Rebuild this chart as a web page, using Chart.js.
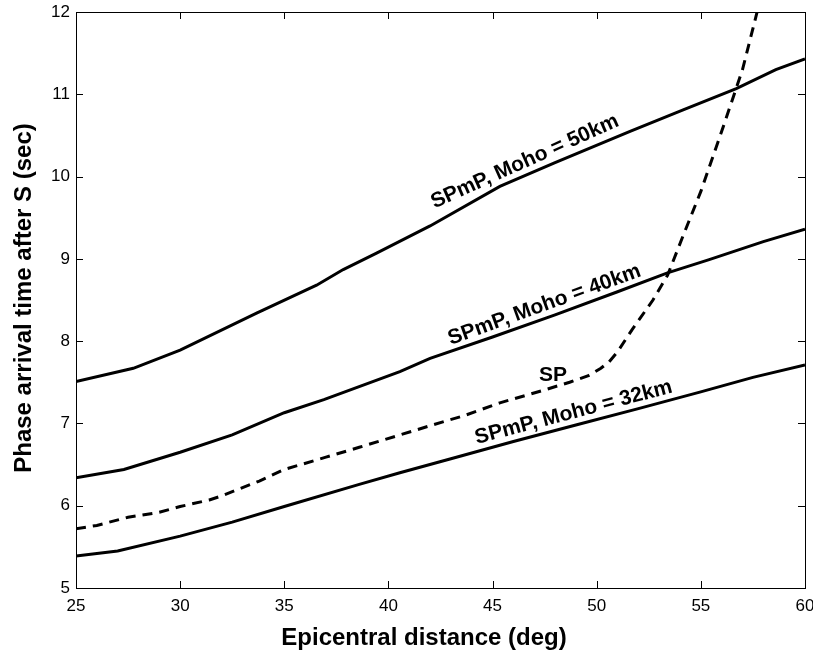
<!DOCTYPE html>
<html>
<head>
<meta charset="utf-8">
<title>Phase arrival time after S</title>
<script src="https://cdn.jsdelivr.net/npm/chart.js@4.4.0/dist/chart.umd.min.js"></script>
<style>
  html, body { margin: 0; padding: 0; background: #fff; }
  #wrap { width: 813px; height: 655px; }
</style>
</head>
<body>
<div id="wrap"><canvas id="myChart" width="813" height="655"></canvas></div>
<script>
// Epicentral distance (deg) and arrival time after S (sec)
const moho50Dist = [25, 27.75, 30, 33.67, 36.55, 37.83, 39.43, 42, 45.35, 48, 51.6, 54.15, 56.7, 58.6, 60];
const moho50Time = [7.51, 7.67, 7.89, 8.34, 8.68, 8.87, 9.07, 9.4, 9.88, 10.17, 10.55, 10.81, 11.07, 11.3, 11.43];

const moho40Dist = [25, 27.3, 30, 32.5, 35, 36.9, 40.55, 42, 45, 48, 51, 53.4, 55.4, 58, 60];
const moho40Time = [6.34, 6.44, 6.65, 6.86, 7.13, 7.29, 7.63, 7.79, 8.05, 8.32, 8.6, 8.83, 8.99, 9.21, 9.36];

const moho32Dist = [25, 27, 30, 32.5, 35, 38.6, 40.55, 43, 46, 49, 52, 54.95, 57.5, 60];
const moho32Time = [5.39, 5.45, 5.63, 5.8, 5.99, 6.26, 6.4, 6.57, 6.78, 6.98, 7.18, 7.38, 7.56, 7.71];

const spDist = [25, 26, 27.5, 29, 30, 31.4, 32, 33.8, 35, 37, 38.6, 40.55, 42.1, 43.7, 45.35, 47.4, 48.7, 49.6, 50.2, 50.6, 51, 51.7, 52.7, 53.4, 54.1, 55, 56, 57, 57.7, 58.3];
const spTime = [5.72, 5.76, 5.86, 5.92, 5.99, 6.07, 6.12, 6.3, 6.44, 6.59, 6.71, 6.86, 6.98, 7.1, 7.25, 7.4, 7.5, 7.58, 7.67, 7.75, 7.87, 8.14, 8.5, 8.8, 9.25, 9.82, 10.55, 11.3, 12.0, 12.5];

const xTicks = [25, 30, 35, 40, 45, 50, 55, 60];
const yTicks = [5, 6, 7, 8, 9, 10, 11, 12];

const xTitle = 'Epicentral distance (deg)';
const yTitle = 'Phase arrival time after S (sec)';

// text written along each solid curve, centred at distance "at"
const curveLabels = [
    { text: 'SPmP, Moho = 50km', dist: moho50Dist, time: moho50Time, at: 46.8 },
    { text: 'SPmP, Moho = 40km', dist: moho40Dist, time: moho40Time, at: 47.7 },
    { text: 'SPmP, Moho = 32km', dist: moho32Dist, time: moho32Time, at: 49.05 }
];
const spLabel = { text: 'SP', x: 47.9, y: 7.58 };

const FONT = '"Liberation Sans", Arial, Helvetica, sans-serif';

function toPoints(xs, ys) {
    return xs.map((v, i) => ({ x: v, y: ys[i] }));
}

// linear lookup of a curve value at distance v
function interp(xs, ys, v) {
    for (let i = 1; i < xs.length; i++) {
        if (v <= xs[i]) {
            const t = (v - xs[i - 1]) / (xs[i] - xs[i - 1]);
            return ys[i - 1] + t * (ys[i] - ys[i - 1]);
        }
    }
    return ys[ys.length - 1];
}

// box, inward ticks on all four sides, curve labels and axis titles
const framePlugin = {
    id: 'frame',
    afterDraw(chart) {
        const { ctx, chartArea: a } = chart;
        const x = chart.scales.x;
        const y = chart.scales.y;
        const tick = 7;

        ctx.save();
        ctx.strokeStyle = '#000';
        ctx.lineWidth = 1;
        ctx.strokeRect(Math.round(a.left) + 0.5, Math.round(a.top) + 0.5,
            Math.round(a.right - a.left), Math.round(a.bottom - a.top));

        ctx.beginPath();
        xTicks.forEach(v => {
            const px = Math.round(x.getPixelForValue(v)) + 0.5;
            ctx.moveTo(px, a.bottom);
            ctx.lineTo(px, a.bottom - tick);
            ctx.moveTo(px, a.top);
            ctx.lineTo(px, a.top + tick);
        });
        yTicks.forEach(v => {
            const py = Math.round(y.getPixelForValue(v)) + 0.5;
            ctx.moveTo(a.left, py);
            ctx.lineTo(a.left + tick, py);
            ctx.moveTo(a.right, py);
            ctx.lineTo(a.right - tick, py);
        });
        ctx.stroke();

        // labels along the curves
        ctx.fillStyle = '#000';
        ctx.font = 'bold 21px ' + FONT;
        ctx.textAlign = 'center';
        ctx.textBaseline = 'alphabetic';
        curveLabels.forEach(l => {
            const px = x.getPixelForValue(l.at);
            const py = y.getPixelForValue(interp(l.dist, l.time, l.at));
            const x0 = x.getPixelForValue(l.at - 2), y0 = y.getPixelForValue(interp(l.dist, l.time, l.at - 2));
            const x1 = x.getPixelForValue(l.at + 2), y1 = y.getPixelForValue(interp(l.dist, l.time, l.at + 2));
            ctx.save();
            ctx.translate(px, py);
            ctx.rotate(Math.atan2(y1 - y0, x1 - x0));
            ctx.fillText(l.text, 0, -7);
            ctx.restore();
        });
        ctx.textBaseline = 'middle';
        ctx.fillText(spLabel.text, x.getPixelForValue(spLabel.x), y.getPixelForValue(spLabel.y));

        // axis titles
        ctx.font = 'bold 24px ' + FONT;
        ctx.textBaseline = 'alphabetic';
        ctx.fillText(xTitle, 424, 645);
        ctx.save();
        ctx.translate(31, 298);
        ctx.rotate(-Math.PI / 2);
        ctx.fillText(yTitle, 0, 0);
        ctx.restore();
        ctx.restore();
    }
};

const lineStyle = {
    borderColor: '#000',
    borderWidth: 3,
    pointRadius: 0,
    tension: 0,
    fill: false,
    clip: 0
};

const ctx = document.getElementById('myChart');

new Chart(ctx, {
    type: 'line',
    data: {
        datasets: [
            Object.assign({ label: 'SPmP, Moho = 50km', data: toPoints(moho50Dist, moho50Time) }, lineStyle),
            Object.assign({ label: 'SPmP, Moho = 40km', data: toPoints(moho40Dist, moho40Time) }, lineStyle),
            Object.assign({ label: 'SPmP, Moho = 32km', data: toPoints(moho32Dist, moho32Time) }, lineStyle),
            Object.assign({ label: 'SP', data: toPoints(spDist, spTime) }, lineStyle, { borderDash: [10, 7] })
        ]
    },
    options: {
        responsive: false,
        animation: false,
        layout: { padding: { top: 12, right: 8, left: 0, bottom: 0 } },
        plugins: {
            legend: { display: false },
            tooltip: { enabled: false }
        },
        scales: {
            x: {
                type: 'linear',
                min: 25,
                max: 60,
                afterBuildTicks: s => { s.ticks = xTicks.map(v => ({ value: v })); },
                ticks: { color: '#000', font: { family: FONT, size: 17 }, padding: 8, maxRotation: 0 },
                grid: { drawOnChartArea: false, drawTicks: false },
                border: { display: false },
                afterFit: s => { s.height = 67; s.paddingLeft = 0; s.paddingRight = 0; }
            },
            y: {
                type: 'linear',
                min: 5,
                max: 12,
                afterBuildTicks: s => { s.ticks = yTicks.map(v => ({ value: v })); },
                ticks: { color: '#000', font: { family: FONT, size: 17 }, padding: 6 },
                grid: { drawOnChartArea: false, drawTicks: false },
                border: { display: false },
                afterFit: s => { s.width = 76; s.paddingTop = 0; s.paddingBottom = 0; }
            }
        }
    },
    plugins: [framePlugin]
});
</script>
</body>
</html>
